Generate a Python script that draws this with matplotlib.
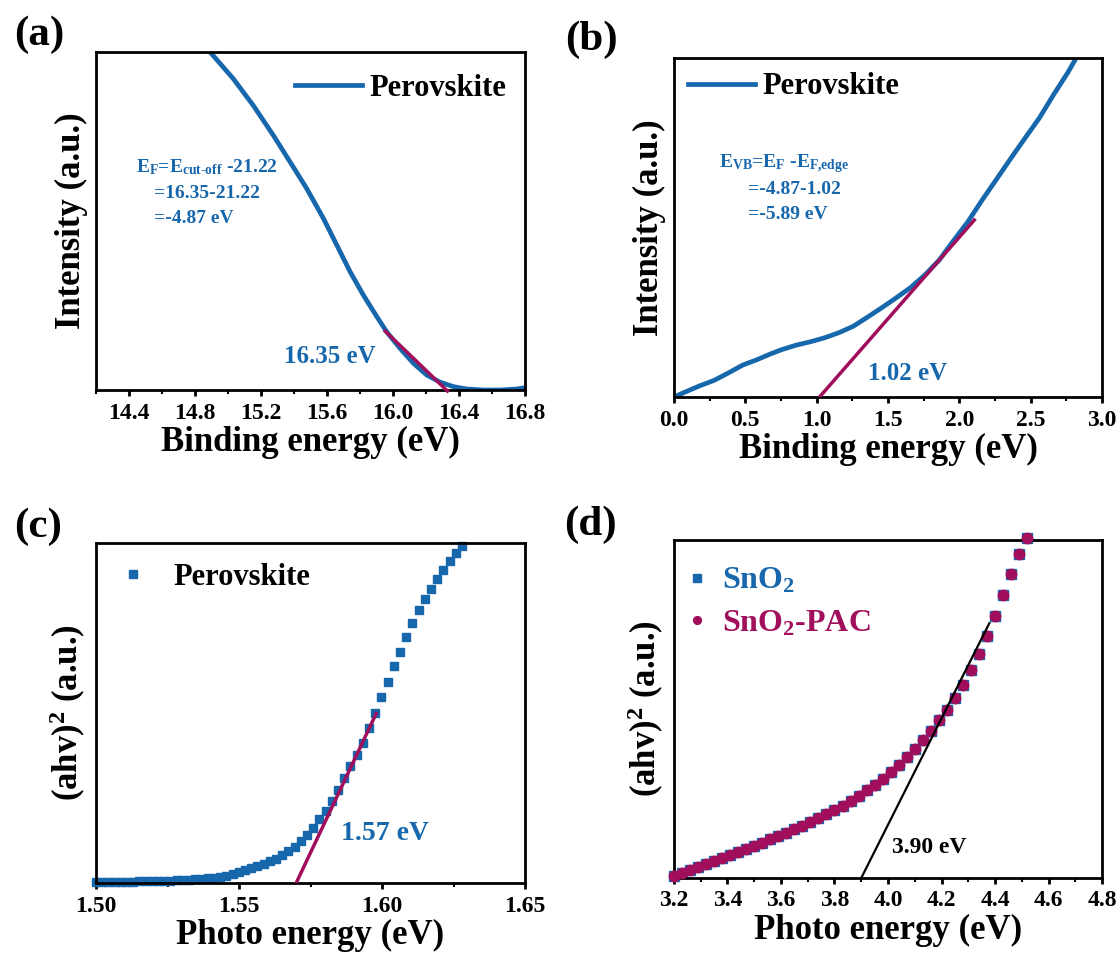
import numpy as np
import matplotlib
matplotlib.use("Agg")
import matplotlib.pyplot as plt
from matplotlib.ticker import MultipleLocator, FormatStrFormatter

plt.rcParams["font.family"] = ["Liberation Serif", "DejaVu Serif"]
plt.rcParams["font.weight"] = "bold"
plt.rcParams["mathtext.fontset"] = "custom"
plt.rcParams["mathtext.rm"] = "Liberation Serif:bold"
plt.rcParams["mathtext.it"] = "Liberation Serif:bold"
plt.rcParams["mathtext.bf"] = "Liberation Serif:bold"
plt.rcParams["mathtext.default"] = "rm"

BLUE = "#1767AC"
MAG = "#A00E5C"

# (a) UPS secondary-electron cut-off
a_energy = [14.900, 15.032, 15.153, 15.274, 15.376, 15.477, 15.578, 15.659, 15.740,
            15.820, 15.902, 15.962, 16.043, 16.124, 16.205, 16.286, 16.366, 16.447,
            16.548, 16.650, 16.750, 16.800]
a_intensity = [0.995, 0.921, 0.842, 0.754, 0.675, 0.596, 0.508, 0.429, 0.350,
               0.281, 0.217, 0.172, 0.123, 0.079, 0.044, 0.023, 0.010, 0.003,
               0.0, 0.0, 0.003, 0.007]
a_fit_x = [15.953, 16.33]
a_fit_y = [0.174, -0.003]

# (b) UPS valence band edge
b_energy = [0.0, 0.080, 0.180, 0.281, 0.381, 0.481, 0.581, 0.682, 0.757, 0.857,
            0.957, 1.058, 1.158, 1.258, 1.358, 1.459, 1.559, 1.659, 1.759, 1.859,
            1.959, 2.060, 2.160, 2.260, 2.361, 2.461, 2.561, 2.661, 2.762, 2.812]
b_intensity = [0.0, 0.015, 0.033, 0.049, 0.071, 0.094, 0.110, 0.128, 0.140, 0.153,
               0.163, 0.175, 0.190, 0.209, 0.236, 0.264, 0.293, 0.323, 0.360, 0.404,
               0.461, 0.517, 0.581, 0.642, 0.704, 0.764, 0.823, 0.892, 0.958, 0.995]
b_fit_x = [1.02, 2.105]
b_fit_y = [0.0, 0.522]

# (c) Tauc plot, perovskite film
c_energy = np.linspace(1.50, 1.628, 60)
c_tauc = [0.003, 0.003, 0.003, 0.003, 0.004, 0.004, 0.004, 0.005, 0.005, 0.006,
          0.006, 0.007, 0.007, 0.008, 0.009, 0.010, 0.011, 0.012, 0.014, 0.016,
          0.019, 0.022, 0.027, 0.032, 0.037, 0.043, 0.050, 0.057, 0.064, 0.072,
          0.082, 0.093, 0.107, 0.123, 0.142, 0.163, 0.187, 0.212, 0.240, 0.273,
          0.308, 0.343, 0.377, 0.413, 0.456, 0.500, 0.546, 0.592, 0.637, 0.680,
          0.724, 0.765, 0.803, 0.835, 0.866, 0.895, 0.922, 0.948, 0.970, 0.992]
c_fit_x = [1.570, 1.598]
c_fit_y = [0.0, 0.499]

# (d) Tauc plot, SnO2 and SnO2-PAC (curves overlap)
d_energy = np.linspace(3.20, 4.52, 45)
d_sno2 = [0.005, 0.014, 0.023, 0.032, 0.041, 0.050, 0.059, 0.068, 0.077, 0.086,
          0.095, 0.104, 0.114, 0.124, 0.134, 0.144, 0.155, 0.166, 0.177, 0.189,
          0.201, 0.214, 0.228, 0.243, 0.259, 0.276, 0.294, 0.314, 0.335, 0.358,
          0.382, 0.408, 0.436, 0.466, 0.498, 0.533, 0.572, 0.615, 0.663, 0.717,
          0.776, 0.838, 0.900, 0.960, 1.005]
d_pac = [0.005, 0.014, 0.023, 0.032, 0.041, 0.050, 0.059, 0.068, 0.077, 0.086,
         0.095, 0.104, 0.114, 0.124, 0.134, 0.144, 0.155, 0.166, 0.177, 0.189,
         0.201, 0.214, 0.228, 0.243, 0.259, 0.276, 0.294, 0.314, 0.335, 0.358,
         0.382, 0.408, 0.436, 0.466, 0.498, 0.533, 0.572, 0.615, 0.663, 0.717,
         0.776, 0.838, 0.900, 0.960, 1.005]
d_fit_x = [3.90, 4.379]
d_fit_y = [0.0, 0.754]

W, H = 1118, 958
fig = plt.figure(figsize=(W / 100, H / 100), dpi=100)


def add_ax(left, top, right, bottom):
    return fig.add_axes([left / W, 1 - bottom / H, (right - left) / W, (bottom - top) / H])


def style(ax, xlim, major, minor, fmt, xlabel, ylabel):
    ax.set_xlim(*xlim)
    ax.set_ylim(0, 1)
    ax.xaxis.set_major_locator(MultipleLocator(major))
    ax.xaxis.set_minor_locator(MultipleLocator(minor))
    ax.xaxis.set_major_formatter(FormatStrFormatter(fmt))
    ax.set_yticks([])
    for s in ax.spines.values():
        s.set_linewidth(2)
    ax.tick_params(axis="x", which="major", direction="out", length=4, width=2,
                   labelsize=17, pad=5)
    ax.tick_params(axis="x", which="minor", direction="out", length=3, width=1.5)
    ax.set_xlabel(xlabel, fontsize=25, fontweight="bold", labelpad=2)
    ax.set_ylabel(ylabel, fontsize=25, fontweight="bold", labelpad=6)


axa = add_ax(96, 52, 525, 390)
axb = add_ax(674, 58, 1102, 397)
axc = add_ax(96, 543, 525, 883)
axd = add_ax(674, 540, 1102, 878)

# (a)
axa.plot(a_energy, a_intensity, color=BLUE, lw=3.4, label="Perovskite", zorder=2)
axa.plot(a_fit_x, a_fit_y, color=MAG, lw=2.5, zorder=3, clip_on=False)
style(axa, (14.2, 16.8), 0.4, 0.2, "%.1f", "Binding energy (eV)", "Intensity (a.u.)")
axa.legend(loc="center left", bbox_to_anchor=(0.464, 0.893), frameon=False, fontsize=22,
           handlelength=2.2, handletextpad=0.25, borderaxespad=0, borderpad=0)
axa.text(14.444, 0.66, r"E$_{F}$=E$_{cut\text{-}off}$ -21.22", color=BLUE, fontsize=14, va="center")
axa.text(14.553, 0.581, "=16.35-21.22", color=BLUE, fontsize=14, va="center")
axa.text(14.553, 0.507, "=-4.87 eV", color=BLUE, fontsize=14, va="center")
axa.text(15.34, 0.098, "16.35 eV", color=BLUE, fontsize=18, va="center")

# (b)
axb.plot(b_energy, b_intensity, color=BLUE, lw=3.4, label="Perovskite", zorder=2)
axb.plot(b_fit_x, b_fit_y, color=MAG, lw=2.5, zorder=3)
style(axb, (0, 3.0), 0.5, 0.25, "%.1f", "Binding energy (eV)", "Intensity (a.u.)")
axb.legend(loc="center left", bbox_to_anchor=(0.033, 0.915), frameon=False, fontsize=22,
           handlelength=2.2, handletextpad=0.23, borderaxespad=0, borderpad=0)
axb.text(0.318, 0.69, r"E$_{VB}$=E$_{F}$ -E$_{F{,}edge}$", color=BLUE, fontsize=14, va="center")
axb.text(0.519, 0.611, "=-4.87-1.02", color=BLUE, fontsize=14, va="center")
axb.text(0.519, 0.537, "=-5.89 eV", color=BLUE, fontsize=14, va="center")
axb.text(1.358, 0.069, "1.02 eV", color=BLUE, fontsize=18, va="center")

# (c)
axc.plot(c_energy, c_tauc, ls="none", marker="s", ms=6, color=BLUE,
         label="Perovskite", zorder=2, clip_on=False)
axc.plot(c_fit_x, c_fit_y, color=MAG, lw=2.5, zorder=3)
style(axc, (1.50, 1.65), 0.05, 0.025, "%.2f", "Photo energy (eV)", r"(ahv)$^{2}$ (a.u.)")
axc.legend(loc="center left", bbox_to_anchor=(0.05, 0.898), frameon=False, fontsize=22,
           handlelength=1.0, handletextpad=0.84, borderaxespad=0, borderpad=0)
axc.text(1.5857, 0.145, "1.57 eV", color=BLUE, fontsize=20, va="center")

# (d)
axd.plot(d_energy, d_sno2, ls="none", marker="s", ms=7.5, color=BLUE,
         label=r"SnO$_{2}$", zorder=2, clip_on=False)
axd.plot(d_energy, d_pac, ls="none", marker="o", ms=7.5, color=MAG,
         label=r"SnO$_{2}$-PAC", zorder=3, clip_on=False)
axd.plot(d_fit_x, d_fit_y, color="black", lw=1.6, zorder=4)
style(axd, (3.2, 4.8), 0.2, 0.1, "%.1f", "Photo energy (eV)", r"(ahv)$^{2}$ (a.u.)")
legd = axd.legend(loc="center left", bbox_to_anchor=(0.016, 0.816), frameon=False,
                  fontsize=23, handlelength=1.0, handletextpad=0.3, borderaxespad=0,
                  borderpad=0, markerscale=0.75, labelspacing=0.4)
for t, c in zip(legd.get_texts(), [BLUE, MAG]):
    t.set_color(c)
axd.text(4.015, 0.089, "3.90 eV", color="black", fontsize=17, va="center")

for lab, x, y in [("(a)", 14, 35), ("(b)", 565, 40), ("(c)", 14, 527), ("(d)", 564, 525)]:
    fig.text(x / W, 1 - y / H, lab, fontsize=31, fontweight="bold", ha="left", va="center")

fig.savefig("out.png", dpi=100)
